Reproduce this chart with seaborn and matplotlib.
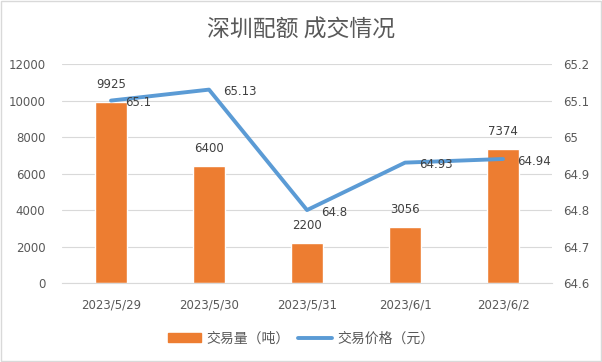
import numpy as np
import pandas as pd
import matplotlib
matplotlib.use('Agg')
import matplotlib.pyplot as plt
import matplotlib.patches as mpatches
from matplotlib.lines import Line2D
import seaborn as sns

# data
dates = ['2023/5/29', '2023/5/30', '2023/5/31', '2023/6/1', '2023/6/2']
volume = [9925, 6400, 2200, 3056, 7374]
price = [65.1, 65.13, 64.8, 64.93, 64.94]
price_labels = ['65.1', '65.13', '64.8', '64.93', '64.94']

BAR_COLOR = '#ED7D31'
LINE_COLOR = '#5B9BD5'
GRID_COLOR = '#D9D9D9'
TICK_COLOR = '#595959'
LABEL_COLOR = '#404040'

sns.set_style('white')
plt.rcParams['font.family'] = ['Noto Sans CJK SC', 'DejaVu Sans']

df = pd.DataFrame({'date': dates, 'volume': volume, 'price': price})

fig = plt.figure(figsize=(6.02, 3.62), dpi=100)
ax = fig.add_axes([0.103, 0.218, 0.814, 0.605])

sns.barplot(data=df, x='date', y='volume', color=BAR_COLOR, width=0.32,
            saturation=1, ax=ax, zorder=2)
ax.set_xlim(-0.5, 4.5)
ax.set_ylim(0, 12000)
ax.set_yticks(range(0, 12001, 2000))
ax.grid(axis='y', color=GRID_COLOR, lw=0.8, zorder=0)
ax.set_axisbelow(True)
ax.set_xlabel('')
ax.set_ylabel('')
for s in ['left', 'right', 'top']:
    ax.spines[s].set_visible(False)
ax.spines['bottom'].set_color(GRID_COLOR)
ax.tick_params(axis='y', length=0, pad=12, labelsize=8.5, labelcolor=TICK_COLOR)
ax.tick_params(axis='x', which='major', length=0, pad=11, labelsize=8.5, labelcolor=TICK_COLOR)
ax.set_xticks(np.arange(-0.5, 5, 1), minor=True)
ax.tick_params(axis='x', which='minor', length=5, color=GRID_COLOR, direction='out')
for lab in ax.get_xticklabels() + ax.get_yticklabels():
    lab.set_fontfamily('DejaVu Sans')

for i, v in enumerate(volume):
    ax.annotate(str(v), (i, v), xytext=(0, 12.5), textcoords='offset points',
                ha='center', va='center', fontsize=8.5, color=LABEL_COLOR,
                family='DejaVu Sans')

ax2 = ax.twinx()
sns.lineplot(x=np.arange(len(dates)), y=price, ax=ax2, color=LINE_COLOR, lw=2.8,
             solid_capstyle='round')
ax2.set_ylim(64.6, 65.2)
ax2.set_yticks([64.6, 64.7, 64.8, 64.9, 65.0, 65.1, 65.2])
ax2.set_yticklabels(['64.6', '64.7', '64.8', '64.9', '65', '65.1', '65.2'])
ax2.set_xlim(-0.5, 4.5)
for s in ['left', 'right', 'top', 'bottom']:
    ax2.spines[s].set_visible(False)
ax2.tick_params(axis='y', length=0, pad=8, labelsize=8.5, labelcolor=TICK_COLOR)
for lab in ax2.get_yticklabels():
    lab.set_fontfamily('DejaVu Sans')
ax2.set_ylabel('')

for i, (p, t) in enumerate(zip(price, price_labels)):
    ax2.annotate(t, (i, p), xytext=(10.5, -1.5), textcoords='offset points',
                 ha='left', va='center', fontsize=8.5, color=LABEL_COLOR,
                 family='DejaVu Sans')

fig.suptitle('深圳配额 成交情况', y=0.948, fontsize=16.5, color=TICK_COLOR)

handles = [mpatches.Patch(color=BAR_COLOR, label='交易量（吨）'),
           Line2D([0], [0], color=LINE_COLOR, lw=2.8, label='交易价格（元）')]
fig.legend(handles=handles, loc='center', bbox_to_anchor=(0.5, 0.065), ncol=2,
           frameon=False, fontsize=10, handlelength=2.4, handleheight=0.7,
           columnspacing=0.6, handletextpad=0.4, labelcolor=TICK_COLOR)

fig.add_artist(mpatches.Rectangle((0.001, 0.002), 0.997, 0.995, transform=fig.transFigure,
                                  fill=False, edgecolor=GRID_COLOR, lw=1))

fig.savefig('out.png', dpi=100)
